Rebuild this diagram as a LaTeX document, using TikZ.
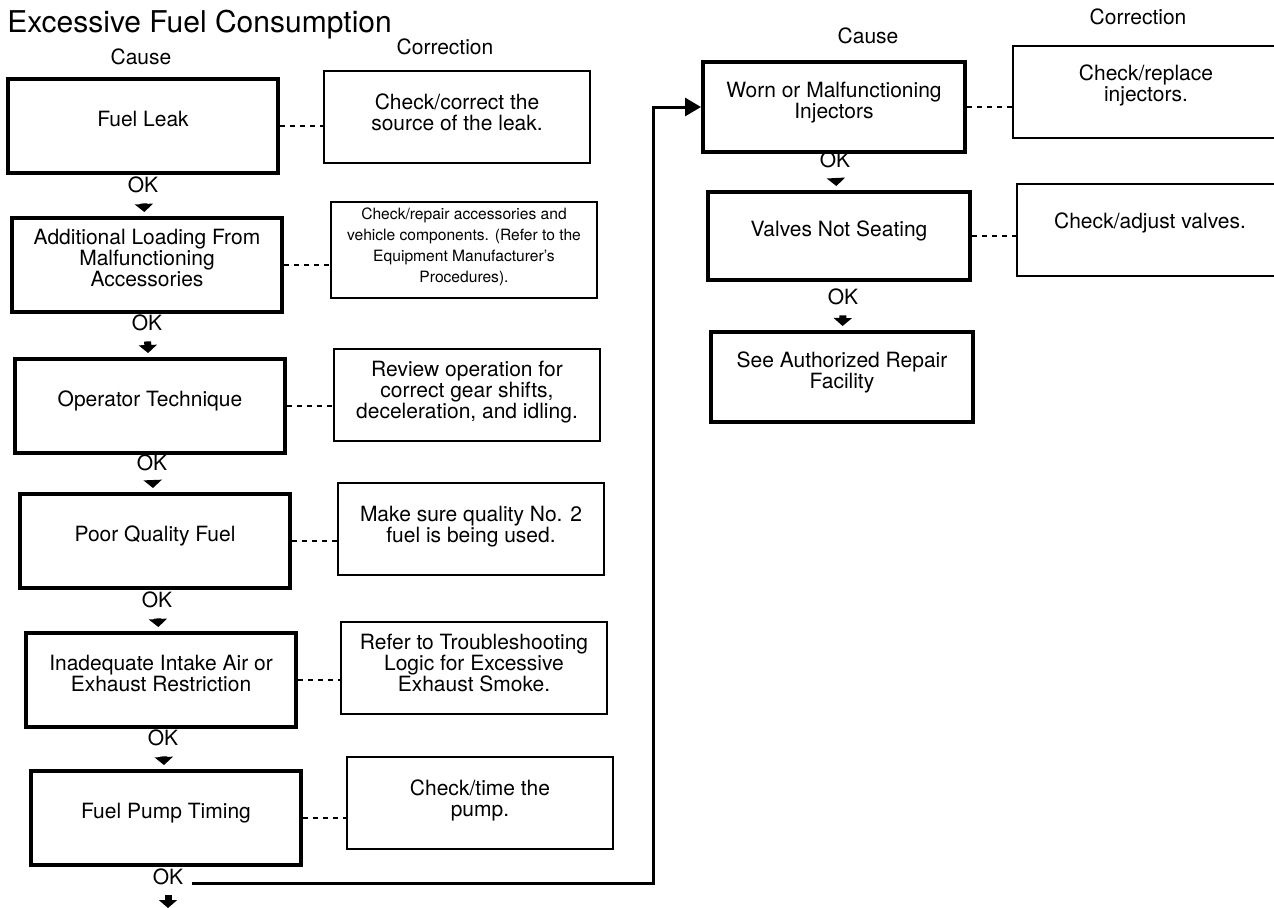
\documentclass[tikz,border=0pt]{standalone}
\usepackage{fontspec}
\setmainfont{TeX Gyre Heros}
\usetikzlibrary{arrows.meta,calc,positioning}

\begin{document}
\begin{tikzpicture}[
      x=0.5pt, y=-0.5pt,
      causebox/.style={draw, line width=2pt, minimum width=135pt, minimum height=47pt, align=center, inner sep=3pt, text depth=7pt, font=\fontsize{10.5}{10.5}\selectfont},
      fixbox/.style={draw, line width=1pt, minimum width=133pt, minimum height=46pt, align=center, inner sep=3pt, text depth=5pt, font=\fontsize{10.5}{10.5}\selectfont},
      oklabel/.style={inner sep=1pt, font=\fontsize{10.5}{10.5}\selectfont},
      colhead/.style={inner sep=1pt, font=\fontsize{10.5}{10.5}\selectfont},
      okarrow/.style={line width=3.5pt, -{Triangle[width=9pt,length=4pt]}, shorten <=4pt, shorten >=2pt},
      dashlink/.style={line width=0.8pt, dash pattern=on 2.5pt off 2.5pt},
      loopline/.style={line width=1.5pt, -{Triangle[width=9pt,length=8pt]}}
    ]
      \useasboundingbox (0,0) rectangle (1274,907);

      \node[anchor=base west, inner sep=0pt, font=\fontsize{15}{15}\selectfont] (title) at (7,32) {Excessive Fuel Consumption};

      % column heads
      \node[colhead] (hcause) at (141,57) {Cause};
      \node[colhead] (hfix) at (445,47) {Correction};
      \node[colhead] (hcauseR) at (868,36) {Cause};
      \node[colhead] (hfixR) at (1138,17) {Correction};

      % left column: causes
      \node[causebox] (leak) at (143,126) {Fuel Leak};
      \node[causebox] (loading) at (147,265) {Additional Loading From\\Malfunctioning\\Accessories};
      \node[causebox] (operator) at (150,406) {Operator Technique};
      \node[causebox] (quality) at (155,541) {Poor Quality Fuel};
      \node[causebox] (intake) at (161,680) {Inadequate Intake Air or\\Exhaust Restriction};
      \node[causebox] (timing) at (166,818) {Fuel Pump Timing};

      % left column: corrections
      \node[fixbox] (fixleak) at (457,117) {Check/correct the\\source of the leak.};
      \node[fixbox, font=\fontsize{7.8}{10.5}\selectfont] (fixloading) at (464,250) {Check/repair accessories and\\vehicle components. (Refer to the\\Equipment Manufacturer's\\Procedures).};
      \node[fixbox] (fixoperator) at (467,395) {Review operation for\\correct gear shifts,\\deceleration, and idling.};
      \node[fixbox] (fixquality) at (471,529) {Make sure quality No. 2\\fuel is being used.};
      \node[fixbox] (fixintake) at (474,668) {Refer to Troubleshooting\\Logic for Excessive\\Exhaust Smoke.};
      \node[fixbox] (fixtiming) at (480,803) {Check/time the\\pump.};

      \node[oklabel] (ok1) at (143,185) {OK};
      \node[oklabel] (ok2) at (147,323) {OK};
      \node[oklabel] (ok3) at (152,463) {OK};
      \node[oklabel] (ok4) at (157,600) {OK};
      \node[oklabel] (ok5) at (163,738) {OK};
      \node[oklabel] (ok6) at (168,877) {OK};
      \coordinate (tail) at (168,912);

      % right column
      \node[causebox, minimum width=131pt, minimum height=45pt] (injectors) at (834,107) {Worn or Malfunctioning\\Injectors};
      \node[causebox, minimum width=131pt, minimum height=44pt] (valves) at (839,236) {Valves Not Seating};
      \node[causebox, minimum width=131pt, minimum height=45pt] (repair) at (842,377) {See Authorized Repair\\Facility};

      \node[fixbox, text depth=9pt] (fixinjectors) at (1146,92) {Check/replace\\injectors.};
      \node[fixbox, text depth=9pt] (fixvalves) at (1150,230) {Check/adjust valves.};

      \node[oklabel] (ok7) at (835,160) {OK};
      \node[oklabel] (ok8) at (843,297) {OK};

      \draw[dashlink] (leak.east) -- (leak.east -| fixleak.west);
      \draw[dashlink] (loading.east) -- (loading.east -| fixloading.west);
      \draw[dashlink] (operator.east) -- (operator.east -| fixoperator.west);
      \draw[dashlink] (quality.east) -- (quality.east -| fixquality.west);
      \draw[dashlink] (intake.east) -- (intake.east -| fixintake.west);
      \draw[dashlink] (timing.east) -- (timing.east -| fixtiming.west);
      \draw[dashlink] (injectors.east) -- (injectors.east -| fixinjectors.west);
      \draw[dashlink] (valves.east) -- (valves.east -| fixvalves.west);

      \draw[okarrow] (ok1) -- (loading);
      \draw[okarrow] (ok2) -- (operator);
      \draw[okarrow] (ok3) -- (quality);
      \draw[okarrow] (ok4) -- (intake);
      \draw[okarrow] (ok5) -- (timing);
      \draw[okarrow] (ok6) -- (tail);
      \draw[okarrow] (ok7) -- (valves);
      \draw[okarrow] (ok8) -- (repair);

      \draw[loopline] ([xshift=3pt,yshift=-3pt]ok6.east) -| ($(injectors.west)+(-48,0)$) -- (injectors.west);
    \end{tikzpicture}
\end{document}
